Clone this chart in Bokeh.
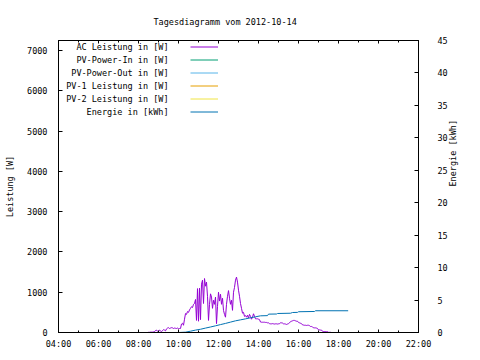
import math
from bokeh.plotting import figure
from bokeh.models import Range1d, LinearAxis, FixedTicker, Legend, LegendItem, Label
from bokeh.embed import file_html
from bokeh.resources import INLINE

FONT = "DejaVu Sans Mono"
FS = "8.5px"

title_text = "Tagesdiagramm vom 2012-10-14"
x_ticks = [4, 6, 8, 10, 12, 14, 16, 18, 20, 22]
x_minor = [5, 7, 9, 11, 13, 15, 17, 19, 21]
x_tick_labels = ["04:00", "06:00", "08:00", "10:00", "12:00", "14:00", "16:00", "18:00", "20:00", "22:00"]
y_ticks = [0, 1000, 2000, 3000, 4000, 5000, 6000, 7000]
y2_ticks = [0, 5, 10, 15, 20, 25, 30, 35, 40, 45]

series_names = ["AC Leistung in [W]", "PV-Power-In in [W]", "PV-Power-Out in [W]",
                "PV-1 Leistung in [W]", "PV-2 Leistung in [W]", "Energie in [kWh]"]
series_colors = ["#9400d3", "#009e73", "#56b4e9", "#e69f00", "#f0e442", "#0072b2"]

# AC power, minutes since midnight / watts
ac_minutes = [
    501, 504, 507, 510, 513, 516, 519, 522, 525, 528,
    531, 534, 537, 540, 543, 546, 549, 552, 555, 558,
    561, 564, 567, 570, 573, 576, 579, 582, 585, 588,
    591, 594, 597, 600, 603, 606, 609, 612, 615, 618,
    621, 624, 627, 630, 633, 636, 639, 642, 645, 648,
    651, 654, 657, 660, 663, 666, 669, 672, 675, 678,
    681, 684, 687, 690, 693, 696, 699, 702, 705, 708,
    711, 714, 717, 720, 723, 726, 729, 732, 735, 738,
    741, 744, 747, 750, 753, 756, 759, 762, 765, 768,
    771, 774, 777, 780, 783, 786, 789, 792, 795, 798,
    801, 804, 807, 810, 813, 816, 819, 822, 825, 828,
    831, 834, 837, 840, 843, 846, 849, 852, 855, 858,
    861, 864, 867, 870, 873, 876, 879, 882, 885, 888,
    891, 894, 897, 900, 903, 906, 909, 912, 915, 918,
    921, 924, 927, 930, 933, 936, 939, 942, 945, 948,
    951, 954, 957, 960, 963, 966, 969, 972, 975, 978,
    981, 984, 987, 990, 993, 996, 999, 1002, 1005, 1008,
    1011, 1014, 1017, 1020, 1023, 1026, 1029, 1032, 1035, 1038,
    1041, 1044, 1047, 1050, 1053, 1056, 1059, 1062, 1065, 1068,
    1071,
]
ac_watts = [
    0, 0, 0, 5, 5, 10, 10, 10, 15, 20,
    50, 60, 30, 20, 60, 40, 20, 50, 70, 60,
    40, 90, 110, 120, 100, 110, 120, 115, 100, 110,
    105, 100, 110, 95, 100, 100, 210, 230, 180, 330,
    470, 450, 520, 500, 560, 600, 640, 620, 700, 720,
    820, 300, 1090, 280, 1100, 320, 1200, 1300, 720, 1340,
    1150, 1250, 900, 300, 700, 960, 880, 600, 800, 700,
    880, 220, 650, 1000, 780, 950, 700, 850, 550, 450,
    380, 700, 900, 1040, 850, 700, 800, 550, 1000, 1120,
    1300, 1375, 1250, 1050, 900, 720, 600, 480, 500, 400,
    420, 380, 430, 360, 450, 400, 330, 380, 465, 400,
    340, 340, 340, 330, 320, 260, 255, 255, 255, 255,
    250, 250, 240, 240, 220, 215, 215, 220, 215, 210,
    215, 215, 210, 215, 220, 240, 240, 235, 215, 215,
    210, 200, 210, 220, 240, 270, 280, 290, 300, 300,
    290, 280, 280, 250, 240, 230, 220, 190, 185, 180,
    180, 175, 180, 180, 170, 150, 150, 140, 115, 115,
    115, 110, 100, 65, 65, 60, 60, 30, 25, 25,
    25, 20, 20, 5, 5, 5, 0, 0, 0, 0,
    0,
]

# Energy, minutes since midnight / kWh
en_minutes = [531, 600, 621, 636, 651, 666, 681, 696, 711, 726, 741, 756, 771, 786,
              801, 816, 831, 846, 867, 870, 894, 897, 936, 942, 957, 960, 1008, 1011, 1109]
en_kwh = [0, 0, 0.05, 0.2, 0.37, 0.5, 0.68, 0.85, 1.03, 1.22, 1.4, 1.6, 1.8, 1.95,
          2.1, 2.27, 2.42, 2.57, 2.6, 2.83, 2.85, 2.93, 2.97, 3.08, 3.1, 3.2, 3.24, 3.35, 3.35]

# series without visible data (nothing is drawn for them in the chart)
pv_in_minutes, pv_in_watts = [600], [float("nan")]
pv_out_minutes, pv_out_watts = [600], [float("nan")]
pv1_minutes, pv1_watts = [600], [float("nan")]
pv2_minutes, pv2_watts = [600], [float("nan")]

Y_MAX = 7250
FRAME_W, FRAME_H = 360, 292

p = figure(frame_width=FRAME_W, frame_height=FRAME_H, output_backend="svg", toolbar_location=None,
           x_range=Range1d(4, 22), y_range=Range1d(0, Y_MAX),
           min_border_left=58, min_border_right=60, min_border_top=40, min_border_bottom=26,
           background_fill_color="white", border_fill_color="white")
p.extra_y_ranges = {"e": Range1d(0, 45)}
p.grid.visible = False
p.outline_line_color = "black"
p.outline_line_width = 1

p.title.text = title_text
p.title.text_font = FONT
p.title.text_font_size = FS
p.title.text_font_style = "normal"
p.title.text_color = "black"
p.title.align = "left"
p.title.offset = 95
p.title.standoff = 28

def style_axis(ax):
    ax.axis_line_color = "black"
    ax.major_tick_line_color = "black"
    ax.minor_tick_line_color = "black"
    ax.major_tick_out = 0
    ax.minor_tick_out = 0
    ax.major_label_text_font = FONT
    ax.major_label_text_font_size = FS
    ax.major_label_text_color = "black"
    ax.axis_label_text_font = FONT
    ax.axis_label_text_font_size = FS
    ax.axis_label_text_font_style = "normal"
    ax.axis_label_text_color = "black"

xa = p.xaxis[0]
style_axis(xa)
xa.ticker = FixedTicker(ticks=x_ticks, minor_ticks=x_minor)
xa.major_label_overrides = {t: l for t, l in zip(x_ticks, x_tick_labels)}
xa.major_tick_in = 3
xa.minor_tick_in = 2
xa.major_label_standoff = 6

top = LinearAxis(ticker=FixedTicker(ticks=x_ticks, minor_ticks=x_minor))
style_axis(top)
top.major_tick_in = 3
top.minor_tick_in = 2
top.major_label_overrides = {t: "" for t in x_ticks}
top.major_label_standoff = 0
p.add_layout(top, "above")

ya = p.yaxis[0]
style_axis(ya)
ya.ticker = FixedTicker(ticks=y_ticks, minor_ticks=[])
ya.major_tick_in = 4
ya.minor_tick_in = 0
ya.major_label_standoff = 11
ya.axis_label = "Leistung [W]"
ya.axis_label_standoff = 9

y2 = LinearAxis(y_range_name="e", ticker=FixedTicker(ticks=y2_ticks, minor_ticks=[]))
style_axis(y2)
y2.major_tick_in = 4
y2.minor_tick_in = 0
y2.major_label_standoff = 19
y2.axis_label = "Energie [kWh]"
y2.axis_label_standoff = 2
if "axis_label_orientation" in y2.properties():
    y2.axis_label_orientation = math.pi / 2
p.add_layout(y2, "right")

renderers = []
data = [
    (ac_minutes, ac_watts, "default"),
    (pv_in_minutes, pv_in_watts, "default"),
    (pv_out_minutes, pv_out_watts, "default"),
    (pv1_minutes, pv1_watts, "default"),
    (pv2_minutes, pv2_watts, "default"),
    (en_minutes, en_kwh, "e"),
]
for (mins, vals, rng), col in zip(data, series_colors):
    r = p.line([m / 60 for m in mins], vals, line_color=col, line_width=1, y_range_name=rng)
    renderers.append(r)

ROW_H = 13
legend = Legend(items=[LegendItem(label="", renderers=[r]) for r in renderers],
                location=(132, FRAME_H - 6 * ROW_H),
                glyph_width=28, glyph_height=ROW_H, label_height=ROW_H, label_width=0,
                label_standoff=0, spacing=0, padding=0, margin=0,
                border_line_alpha=0, background_fill_alpha=0,
                label_text_font=FONT, label_text_font_size=FS)
p.add_layout(legend)

for i, name in enumerate(series_names):
    yy = Y_MAX * (1 - (6.5 + ROW_H * i) / FRAME_H)
    p.add_layout(Label(x=9.5, y=yy, text=name, text_align="right", text_baseline="middle",
                       text_font=FONT, text_font_size=FS, text_color="black"))

open("out.html", "w").write(file_html(p, INLINE))
